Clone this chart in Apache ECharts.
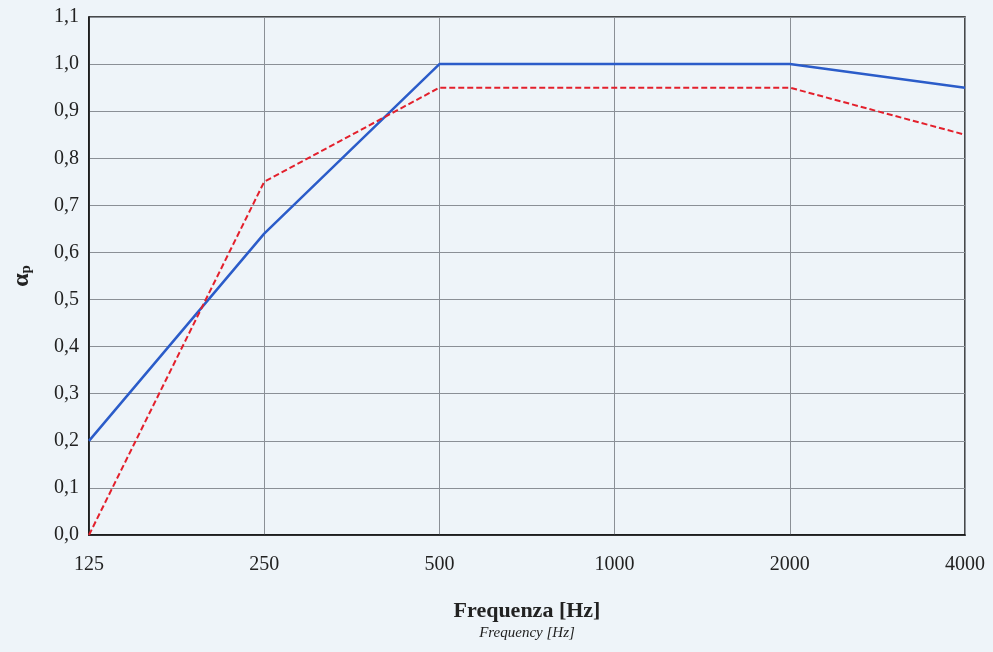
<!DOCTYPE html>
<html><head><meta charset="utf-8">
<script src="https://cdn.jsdelivr.net/npm/echarts@6/dist/echarts.min.js"></script>
<style>html,body{margin:0;padding:0;background:#eef4f9;}#c{width:993px;height:652px;}</style>
</head><body><div id="c"></div>
<script>
const categories = ['125','250','500','1000','2000','4000'];
const seriesBlue = [0.20, 0.64, 1.00, 1.00, 1.00, 0.95];
const seriesRed = [0.00, 0.75, 0.95, 0.95, 0.95, 0.85];
const yTicks = {min: 0, max: 1.1, interval: 0.1};

const chart = echarts.init(document.getElementById('c'));
chart.setOption({
  backgroundColor: '#eef4f9',
  animation: false,
  grid: {left: 89, right: 28, top: 17, bottom: 117, show: true, borderColor: '#111', borderWidth: 1.5},
  xAxis: {
    type: 'category', data: categories, boundaryGap: false,
    axisLine: {lineStyle: {color: '#111', width: 1.5}},
    axisTick: {show: false},
    axisLabel: {fontFamily: 'Liberation Serif', fontSize: 20, color: '#222', margin: 20},
    splitLine: {show: true, lineStyle: {color: '#8a8f96', width: 1}},
    name: '{a|Frequenza [Hz]}\n{b|Frequency [Hz]}',
    nameLocation: 'middle', nameGap: 63,
    nameTextStyle: {
      rich: {
        a: {fontFamily: 'Liberation Serif', fontSize: 22, fontWeight: 'bold', color: '#222', lineHeight: 26},
        b: {fontFamily: 'Liberation Serif', fontSize: 15, fontStyle: 'italic', color: '#222', lineHeight: 18}
      }
    }
  },
  yAxis: {
    type: 'value', min: yTicks.min, max: yTicks.max, interval: yTicks.interval,
    axisLine: {show: true, lineStyle: {color: '#111', width: 1.5}},
    axisTick: {show: false},
    axisLabel: {fontFamily: 'Liberation Serif', fontSize: 20, color: '#222', margin: 10,
      formatter: v => v.toFixed(1).replace('.', ',')},
    splitLine: {show: true, lineStyle: {color: '#8a8f96', width: 1}},
    name: '{a|α}{b|p}', nameLocation: 'middle', nameGap: 55, nameRotate: 90,
    nameTextStyle: {
      rich: {
        a: {fontFamily: 'Liberation Serif', fontSize: 24, fontWeight: 'bold', color: '#222'},
        b: {fontFamily: 'Liberation Serif', fontSize: 15, fontWeight: 'bold', color: '#222', verticalAlign: 'bottom', padding: [8, 0, 0, 0]}
      }
    }
  },
  series: [
    {type: 'line', data: seriesBlue, symbol: 'none', lineStyle: {color: '#2b5cc9', width: 2.5}},
    {type: 'line', data: seriesRed, symbol: 'none', lineStyle: {color: '#e3202c', width: 2, type: [6, 3]}}
  ]
});
</script></body></html>
